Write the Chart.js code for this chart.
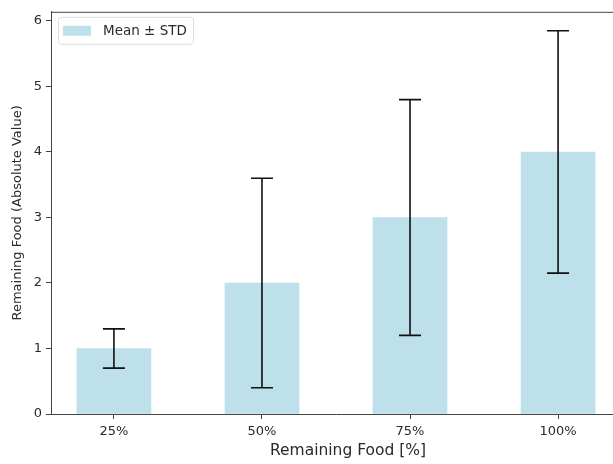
<!DOCTYPE html>
<html>
<head>
<meta charset="utf-8">
<script src="https://cdn.jsdelivr.net/npm/chart.js@4"></script>
<style>
  html, body { margin: 0; padding: 0; background: #fff; overflow: hidden; }
  #wrap { width: 613px; height: 464px; overflow: hidden; }
  canvas { display: block; }
</style>
</head>
<body>
<div id="wrap"><canvas id="chart" width="630" height="464"></canvas></div>
<script>
const categories = ["25%", "50%", "75%", "100%"]
const means = [1, 2, 3, 4]
const stds = [0.3, 1.6, 1.8, 1.85]
const yTicks = [0, 1, 2, 3, 4, 5, 6]
const xTitle = "Remaining Food [%]"
const yTitle = "Remaining Food (Absolute Value)"

const textColor = "#2a2a2a"
const axisColor = "#444"
const barColor = "rgba(173, 216, 230, 0.8)"

// error bars, top spine, legend box, x title
const extras = {
  id: "extras",
  afterDatasetsDraw(chart) {
    const { ctx, chartArea, scales } = chart
    const x = scales.x, y = scales.y

    ctx.save()
    ctx.strokeStyle = "#111"
    ctx.lineWidth = 1.6
    means.forEach((m, i) => {
      const px = x.getPixelForValue(i)
      const top = y.getPixelForValue(m + stds[i])
      const bot = y.getPixelForValue(m - stds[i])
      ctx.beginPath()
      ctx.moveTo(px, top); ctx.lineTo(px, bot)
      ctx.moveTo(px - 11, top); ctx.lineTo(px + 11, top)
      ctx.moveTo(px - 11, bot); ctx.lineTo(px + 11, bot)
      ctx.stroke()
    })

    // top spine
    ctx.strokeStyle = axisColor
    ctx.lineWidth = 1
    ctx.beginPath()
    ctx.moveTo(chartArea.left, chartArea.top + 0.5)
    ctx.lineTo(chartArea.right, chartArea.top + 0.5)
    ctx.stroke()

    // legend
    const lx = chartArea.left + 7, ly = chartArea.top + 5
    ctx.fillStyle = "rgba(255,255,255,0.8)"
    ctx.strokeStyle = "#ddd"
    ctx.beginPath()
    ctx.roundRect(lx + 0.5, ly + 0.5, 135, 27, 3)
    ctx.fill(); ctx.stroke()
    ctx.fillStyle = barColor
    ctx.fillRect(lx + 5, ly + 9, 28, 10)
    ctx.fillStyle = textColor
    ctx.font = "13.5px 'DejaVu Sans'"
    ctx.textBaseline = "middle"
    ctx.fillText(chart.data.datasets[0].label, lx + 45, ly + 14.5)

    // x axis title
    ctx.font = "15.5px 'DejaVu Sans'"
    ctx.textAlign = "center"
    ctx.fillText(xTitle, chartArea.left + 297, 451)
    ctx.restore()
  }
}

new Chart(document.getElementById("chart"), {
  type: "bar",
  data: {
    datasets: [{
      label: "Mean ± STD",
      data: means.map((v, i) => ({ x: i, y: v })),
      backgroundColor: barColor,
      borderWidth: 0,
      barThickness: 74
    }]
  },
  options: {
    responsive: false,
    animation: false,
    layout: { padding: { top: 9, right: 9, left: 0, bottom: 0 } },
    plugins: { legend: { display: false }, tooltip: { enabled: false } },
    scales: {
      x: {
        type: "linear",
        offset: false,
        min: -0.425,
        max: 3.425,
        afterBuildTicks: (scale) => { scale.ticks = categories.map((c, i) => ({ value: i })) },
        afterFit: (scale) => { scale.height = 50 },
        ticks: {
          callback: (v) => categories[v],
          color: textColor,
          font: { family: "DejaVu Sans", size: 13 },
          padding: 5,
          maxRotation: 0
        },
        grid: { drawOnChartArea: false, offset: false, tickLength: 5, color: axisColor, tickWidth: 1 },
        border: { color: axisColor }
      },
      y: {
        min: 0,
        max: 6.14,
        afterBuildTicks: (scale) => { scale.ticks = yTicks.map(v => ({ value: v })) },
        afterFit: (scale) => { scale.width = 51 },
        ticks: {
          color: textColor,
          font: { family: "DejaVu Sans", size: 13 },
          padding: 4
        },
        grid: { drawOnChartArea: false, tickLength: 5, color: axisColor, tickWidth: 1 },
        border: { color: axisColor },
        title: {
          display: true,
          text: yTitle,
          color: textColor,
          font: { family: "DejaVu Sans", size: 13 },
          padding: { top: 10, bottom: 0 }
        }
      }
    }
  },
  plugins: [extras]
})
</script>
</body>
</html>
